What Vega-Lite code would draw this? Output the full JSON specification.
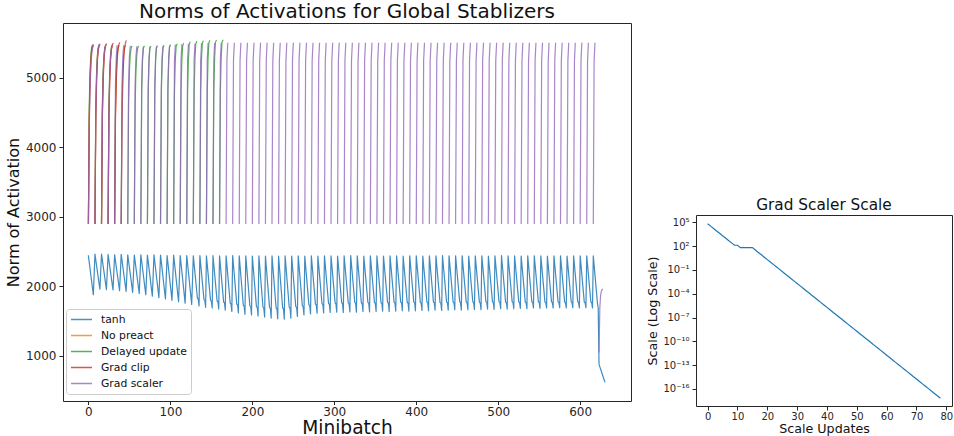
{
"$schema": "https://vega.github.io/schema/vega-lite/v6.json",
"padding": {"left": 4, "top": 1, "right": 0, "bottom": 0},
"background": "white",
"config": {
  "font": "DejaVu Sans",
  "view": {"stroke": "#262626", "strokeWidth": 1},
  "axis": {"grid": false, "domain": false, "tickColor": "#262626", "tickSize": 4, "labelColor": "#262626", "titleColor": "#111", "labelFont": "DejaVu Sans", "titleFont": "DejaVu Sans", "titleFontWeight": "normal", "labelPadding": 3},
  "title": {"font": "DejaVu Sans", "fontWeight": "normal", "color": "#111"}
},
"hconcat": [
{
  "width": 568, "height": 378,
  "title": {"text": "Norms of Activations for Global Stablizers", "fontSize": 20, "offset": 1},
  "encoding": {
    "x": {"field": "x", "type": "quantitative", "scale": {"domain": [-31, 662], "nice": false, "zero": false}, "axis": {"values": [0,100,200,300,400,500,600], "format": "d", "title": "Minibatch", "titleFontSize": 18.6, "labelFontSize": 12, "tickSize": 3.5, "labelPadding": 1.5, "titlePadding": 1}},
    "y": {"field": "y", "type": "quantitative", "scale": {"domain": [353, 5787], "nice": false, "zero": false}, "axis": {"values": [1000,2000,3000,4000,5000], "format": "d", "title": "Norm of Activation", "titleFontSize": 16, "labelFontSize": 12, "titlePadding": 4}},
    "detail": {"field": "c", "type": "nominal"}
  },
  "layer": [
  {
    "data": {"values": [
{"x":0,"y":2440},{"x":6,"y":1880},{"x":8,"y":2465},{"x":14,"y":1960},{"x":16,"y":2465},{"x":22,"y":1955},{"x":24,"y":2460},{"x":30,"y":1950},{"x":32,"y":2455},{"x":38,"y":1940},{"x":40,"y":2460},{"x":46,"y":1930},{"x":48,"y":2455},{"x":54,"y":1915},{"x":56,"y":2450},{"x":62,"y":1900},{"x":64,"y":2455},{"x":70,"y":1880},{"x":72,"y":2450},{"x":78,"y":1860},{"x":80,"y":2455},{"x":86,"y":1840},{"x":88,"y":2450},{"x":94,"y":1820},{"x":96,"y":2445},{"x":102,"y":1800},{"x":104,"y":2450},{"x":110,"y":1780},{"x":112,"y":2445},{"x":118,"y":1760},{"x":120,"y":2445},{"x":126,"y":1740},
{"x":128,"y":2440},{"x":133,"y":1830},{"x":134,"y":1820},{"x":135,"y":1720},
{"x":136,"y":2445},{"x":141,"y":1810},{"x":142,"y":1800},{"x":143,"y":1700},
{"x":144,"y":2440},{"x":149,"y":1800},{"x":150,"y":1790},{"x":151,"y":1690},
{"x":152,"y":2445},{"x":157,"y":1790},{"x":158,"y":1780},{"x":159,"y":1675},
{"x":160,"y":2440},{"x":165,"y":1775},{"x":166,"y":1765},{"x":167,"y":1660},
{"x":168,"y":2440},{"x":173,"y":1760},{"x":174,"y":1750},{"x":175,"y":1640},
{"x":176,"y":2445},{"x":181,"y":1745},{"x":182,"y":1735},{"x":183,"y":1620},
{"x":184,"y":2440},{"x":189,"y":1730},{"x":190,"y":1720},{"x":191,"y":1600},
{"x":192,"y":2440},{"x":197,"y":1720},{"x":198,"y":1710},{"x":199,"y":1590},
{"x":200,"y":2435},{"x":205,"y":1710},{"x":206,"y":1700},{"x":207,"y":1575},
{"x":208,"y":2440},{"x":213,"y":1700},{"x":214,"y":1690},{"x":215,"y":1560},
{"x":216,"y":2435},{"x":221,"y":1695},{"x":222,"y":1685},{"x":223,"y":1545},
{"x":224,"y":2440},{"x":229,"y":1690},{"x":230,"y":1680},{"x":231,"y":1535},
{"x":232,"y":2435},{"x":237,"y":1690},{"x":238,"y":1680},{"x":239,"y":1530},
{"x":240,"y":2440},{"x":245,"y":1700},{"x":246,"y":1690},{"x":247,"y":1545},
{"x":248,"y":2435},{"x":253,"y":1710},{"x":254,"y":1700},{"x":255,"y":1570},
{"x":256,"y":2440},{"x":261,"y":1720},{"x":262,"y":1710},{"x":263,"y":1590},
{"x":264,"y":2435},{"x":269,"y":1735},{"x":270,"y":1725},{"x":271,"y":1605},
{"x":272,"y":2440},{"x":277,"y":1745},{"x":278,"y":1735},{"x":279,"y":1615},
{"x":280,"y":2435},{"x":285,"y":1750},{"x":286,"y":1740},{"x":287,"y":1620},
{"x":288,"y":2440},{"x":293,"y":1755},{"x":294,"y":1745},{"x":295,"y":1625},
{"x":296,"y":2440},{"x":301,"y":1760},{"x":302,"y":1750},{"x":303,"y":1630},
{"x":304,"y":2435},{"x":309,"y":1765},{"x":310,"y":1755},{"x":311,"y":1625},
{"x":312,"y":2440},{"x":317,"y":1765},{"x":318,"y":1755},{"x":319,"y":1635},
{"x":320,"y":2445},{"x":325,"y":1770},{"x":326,"y":1760},{"x":327,"y":1630},
{"x":328,"y":2440},{"x":333,"y":1765},{"x":334,"y":1755},{"x":335,"y":1640},
{"x":336,"y":2435},{"x":341,"y":1770},{"x":342,"y":1760},{"x":343,"y":1635},
{"x":344,"y":2440},{"x":349,"y":1770},{"x":350,"y":1760},{"x":351,"y":1640},
{"x":352,"y":2440},{"x":357,"y":1765},{"x":358,"y":1755},{"x":359,"y":1645},
{"x":360,"y":2435},{"x":365,"y":1770},{"x":366,"y":1760},{"x":367,"y":1640},
{"x":368,"y":2440},{"x":373,"y":1770},{"x":374,"y":1760},{"x":375,"y":1645},
{"x":376,"y":2440},{"x":381,"y":1775},{"x":382,"y":1765},{"x":383,"y":1650},
{"x":384,"y":2435},{"x":389,"y":1770},{"x":390,"y":1760},{"x":391,"y":1645},
{"x":392,"y":2440},{"x":397,"y":1775},{"x":398,"y":1765},{"x":399,"y":1650},
{"x":400,"y":2440},{"x":405,"y":1770},{"x":406,"y":1760},{"x":407,"y":1655},
{"x":408,"y":2435},{"x":413,"y":1775},{"x":414,"y":1765},{"x":415,"y":1650},
{"x":416,"y":2440},{"x":421,"y":1775},{"x":422,"y":1765},{"x":423,"y":1660},
{"x":424,"y":2440},{"x":429,"y":1770},{"x":430,"y":1760},{"x":431,"y":1655},
{"x":432,"y":2445},{"x":437,"y":1775},{"x":438,"y":1765},{"x":439,"y":1660},
{"x":440,"y":2440},{"x":445,"y":1775},{"x":446,"y":1765},{"x":447,"y":1665},
{"x":448,"y":2440},{"x":453,"y":1780},{"x":454,"y":1770},{"x":455,"y":1660},
{"x":456,"y":2440},{"x":461,"y":1775},{"x":462,"y":1765},{"x":463,"y":1665},
{"x":464,"y":2435},{"x":469,"y":1780},{"x":470,"y":1770},{"x":471,"y":1670},
{"x":472,"y":2440},{"x":477,"y":1775},{"x":478,"y":1765},{"x":479,"y":1665},
{"x":480,"y":2440},{"x":485,"y":1780},{"x":486,"y":1770},{"x":487,"y":1675},
{"x":488,"y":2435},{"x":493,"y":1780},{"x":494,"y":1770},{"x":495,"y":1670},
{"x":496,"y":2440},{"x":501,"y":1780},{"x":502,"y":1770},{"x":503,"y":1680},
{"x":504,"y":2445},{"x":509,"y":1775},{"x":510,"y":1765},{"x":511,"y":1675},
{"x":512,"y":2440},{"x":517,"y":1780},{"x":518,"y":1770},{"x":519,"y":1680},
{"x":520,"y":2440},{"x":525,"y":1780},{"x":526,"y":1770},{"x":527,"y":1685},
{"x":528,"y":2435},{"x":533,"y":1775},{"x":534,"y":1765},{"x":535,"y":1680},
{"x":536,"y":2440},{"x":541,"y":1780},{"x":542,"y":1770},{"x":543,"y":1690},
{"x":544,"y":2440},{"x":549,"y":1780},{"x":550,"y":1770},{"x":551,"y":1685},
{"x":552,"y":2440},{"x":557,"y":1775},{"x":558,"y":1765},{"x":559,"y":1690},
{"x":560,"y":2435},{"x":565,"y":1780},{"x":566,"y":1770},{"x":567,"y":1690},
{"x":568,"y":2440},{"x":573,"y":1780},{"x":574,"y":1770},{"x":575,"y":1695},
{"x":576,"y":2440},{"x":581,"y":1775},{"x":582,"y":1765},{"x":583,"y":1690},
{"x":584,"y":2435},{"x":589,"y":1780},{"x":590,"y":1770},{"x":591,"y":1695},
{"x":592,"y":2440},{"x":597,"y":1780},{"x":598,"y":1770},{"x":599,"y":1690},
{"x":600,"y":2440},{"x":605,"y":1775},{"x":606,"y":1765},{"x":607,"y":1695},
{"x":608,"y":2440},{"x":613,"y":1780},{"x":614,"y":1770},{"x":615,"y":1690},
{"x":616,"y":2440},{"x":621,"y":1765},{"x":622,"y":1690},{"x":623,"y":880},{"x":630,"y":630}
    ]},
    "mark": {"type": "line", "strokeWidth": 1.2, "opacity": 0.85, "strokeJoin": "round", "strokeCap": "square"},
    "encoding": {"color": {"datum": "tanh", "type": "nominal",
      "scale": {"domain": ["tanh", "No preact", "Delayed update", "Grad clip", "Grad scaler"], "range": ["#1f77b4", "#ff7f0e", "#2ca02c", "#d62728", "#9467bd"]},
      "legend": {"title": null, "orient": "none", "legendX": 3, "legendY": 286, "fillColor": "rgba(255,255,255,0.8)", "strokeColor": "#cccccc", "cornerRadius": 3, "padding": 4, "symbolType": "stroke", "symbolSize": 440, "symbolStrokeWidth": 1.5, "symbolOpacity": 0.6, "labelFontSize": 10.8, "labelColor": "#111", "labelOffset": 8, "clipHeight": 13, "rowPadding": 3}}}
  },
  {
    "data": {"values": [
{"x":0,"y":2905,"c":0},{"x":1,"y":4450,"c":0},{"x":2,"y":5000,"c":0},{"x":3,"y":5280,"c":0},{"x":4,"y":5410,"c":0},{"x":5,"y":5450,"c":0},
{"x":8,"y":2905,"c":1},{"x":9,"y":4450,"c":1},{"x":10,"y":5000,"c":1},{"x":11,"y":5280,"c":1},{"x":12,"y":5410,"c":1},{"x":13,"y":5450,"c":1},
{"x":16,"y":2905,"c":2},{"x":17,"y":4450,"c":2},{"x":18,"y":5000,"c":2},{"x":19,"y":5280,"c":2},{"x":20,"y":5410,"c":2},{"x":21,"y":5450,"c":2},
{"x":24,"y":2905,"c":3},{"x":25,"y":4450,"c":3},{"x":26,"y":5000,"c":3},{"x":27,"y":5280,"c":3},{"x":28,"y":5410,"c":3},{"x":29,"y":5450,"c":3},
{"x":32,"y":2905,"c":4},{"x":33,"y":4450,"c":4},{"x":34,"y":5000,"c":4},{"x":35,"y":5280,"c":4},{"x":36,"y":5410,"c":4},{"x":37,"y":5450,"c":4}
    ]},
    "mark": {"type": "line", "strokeWidth": 1.2, "opacity": 0.8, "strokeJoin": "round", "strokeCap": "square"},
    "encoding": {"color": {"datum": "No preact", "type": "nominal"}}
  },
  {
    "data": {"values": [
{"x":0,"y":2905,"c":0},{"x":1,"y":4600,"c":0},{"x":2,"y":5100,"c":0},{"x":3,"y":5330,"c":0},{"x":4,"y":5440,"c":0},{"x":5,"y":5470,"c":0},
{"x":8,"y":2905,"c":1},{"x":9,"y":4600,"c":1},{"x":10,"y":5100,"c":1},{"x":11,"y":5330,"c":1},{"x":12,"y":5440,"c":1},{"x":13,"y":5470,"c":1},
{"x":16,"y":2905,"c":2},{"x":17,"y":4600,"c":2},{"x":18,"y":5100,"c":2},{"x":19,"y":5330,"c":2},{"x":20,"y":5440,"c":2},{"x":21,"y":5465,"c":2},
{"x":24,"y":2905,"c":3},{"x":25,"y":4600,"c":3},{"x":26,"y":5100,"c":3},{"x":27,"y":5330,"c":3},{"x":28,"y":5440,"c":3},{"x":29,"y":5460,"c":3},
{"x":32,"y":2905,"c":4},{"x":33,"y":4600,"c":4},{"x":34,"y":5100,"c":4},{"x":35,"y":5330,"c":4},{"x":36,"y":5430,"c":4},{"x":37,"y":5460,"c":4},
{"x":40,"y":2905,"c":5},{"x":41,"y":4600,"c":5},{"x":42,"y":5100,"c":5},{"x":43,"y":5330,"c":5},{"x":44,"y":5430,"c":5},{"x":45,"y":5455,"c":5},
{"x":48,"y":2905,"c":6},{"x":49,"y":4600,"c":6},{"x":50,"y":5100,"c":6},{"x":51,"y":5320,"c":6},{"x":52,"y":5420,"c":6},{"x":53,"y":5450,"c":6},
{"x":56,"y":2905,"c":7},{"x":57,"y":4600,"c":7},{"x":58,"y":5100,"c":7},{"x":59,"y":5320,"c":7},{"x":60,"y":5420,"c":7},{"x":61,"y":5450,"c":7},
{"x":64,"y":2905,"c":8},{"x":65,"y":4800,"c":8},{"x":66,"y":5250,"c":8},{"x":67,"y":5420,"c":8},{"x":68,"y":5450,"c":8},
{"x":72,"y":2905,"c":9},{"x":73,"y":4800,"c":9},{"x":74,"y":5250,"c":9},{"x":75,"y":5420,"c":9},{"x":76,"y":5450,"c":9},
{"x":80,"y":2905,"c":10},{"x":81,"y":4800,"c":10},{"x":82,"y":5250,"c":10},{"x":83,"y":5425,"c":10},{"x":84,"y":5455,"c":10},
{"x":88,"y":2905,"c":11},{"x":89,"y":4800,"c":11},{"x":90,"y":5250,"c":11},{"x":91,"y":5430,"c":11},{"x":92,"y":5460,"c":11},
{"x":96,"y":2905,"c":12},{"x":97,"y":4800,"c":12},{"x":98,"y":5250,"c":12},{"x":99,"y":5440,"c":12},{"x":100,"y":5470,"c":12},
{"x":104,"y":2905,"c":13},{"x":105,"y":4800,"c":13},{"x":106,"y":5250,"c":13},{"x":107,"y":5450,"c":13},{"x":108,"y":5480,"c":13},
{"x":112,"y":2905,"c":14},{"x":113,"y":4800,"c":14},{"x":114,"y":5250,"c":14},{"x":115,"y":5460,"c":14},{"x":116,"y":5490,"c":14},
{"x":120,"y":2905,"c":15},{"x":121,"y":4800,"c":15},{"x":122,"y":5260,"c":15},{"x":123,"y":5480,"c":15},{"x":124,"y":5510,"c":15},
{"x":128,"y":2905,"c":16},{"x":129,"y":4800,"c":16},{"x":130,"y":5270,"c":16},{"x":131,"y":5490,"c":16},{"x":132,"y":5520,"c":16},
{"x":136,"y":2905,"c":17},{"x":137,"y":4800,"c":17},{"x":138,"y":5280,"c":17},{"x":139,"y":5500,"c":17},{"x":140,"y":5525,"c":17},
{"x":144,"y":2905,"c":18},{"x":145,"y":4800,"c":18},{"x":146,"y":5280,"c":18},{"x":147,"y":5505,"c":18},{"x":148,"y":5530,"c":18},
{"x":152,"y":2905,"c":19},{"x":153,"y":4800,"c":19},{"x":154,"y":5290,"c":19},{"x":155,"y":5510,"c":19},{"x":156,"y":5535,"c":19},
{"x":160,"y":2905,"c":20},{"x":161,"y":4800,"c":20},{"x":162,"y":5290,"c":20},{"x":163,"y":5515,"c":20},{"x":164,"y":5540,"c":20}
    ]},
    "mark": {"type": "line", "strokeWidth": 1.2, "opacity": 0.8, "strokeJoin": "round", "strokeCap": "square"},
    "encoding": {"color": {"datum": "Delayed update", "type": "nominal"}}
  },
  {
    "data": {"values": [
{"x":0,"y":2905,"c":0},{"x":1,"y":4400,"c":0},{"x":2,"y":4950,"c":0},{"x":3,"y":5250,"c":0},{"x":4,"y":5400,"c":0},{"x":5,"y":5450,"c":0},{"x":6,"y":5470,"c":0},
{"x":8,"y":2905,"c":1},{"x":9,"y":4400,"c":1},{"x":10,"y":4950,"c":1},{"x":11,"y":5250,"c":1},{"x":12,"y":5400,"c":1},{"x":13,"y":5455,"c":1},{"x":14,"y":5480,"c":1},
{"x":16,"y":2905,"c":2},{"x":17,"y":4400,"c":2},{"x":18,"y":4950,"c":2},{"x":19,"y":5250,"c":2},{"x":20,"y":5400,"c":2},{"x":21,"y":5460,"c":2},{"x":22,"y":5485,"c":2},
{"x":24,"y":2905,"c":3},{"x":25,"y":4400,"c":3},{"x":26,"y":4950,"c":3},{"x":27,"y":5250,"c":3},{"x":28,"y":5400,"c":3},{"x":29,"y":5465,"c":3},{"x":30,"y":5490,"c":3},
{"x":32,"y":2905,"c":4},{"x":33,"y":4400,"c":4},{"x":34,"y":4950,"c":4},{"x":35,"y":5250,"c":4},{"x":36,"y":5400,"c":4},{"x":37,"y":5470,"c":4},{"x":38,"y":5500,"c":4},
{"x":40,"y":2905,"c":5},{"x":41,"y":4400,"c":5},{"x":42,"y":4950,"c":5},{"x":43,"y":5250,"c":5},{"x":44,"y":5410,"c":5},{"x":45,"y":5490,"c":5},{"x":46,"y":5530,"c":5}
    ]},
    "mark": {"type": "line", "strokeWidth": 1.2, "opacity": 0.8, "strokeJoin": "round", "strokeCap": "square"},
    "encoding": {"color": {"datum": "Grad clip", "type": "nominal"}}
  },
  {
    "data": {"values": [
{"x":0,"y":2905,"c":0},{"x":1,"y":4250,"c":0},{"x":2,"y":4850,"c":0},{"x":3,"y":5150,"c":0},{"x":4,"y":5330,"c":0},{"x":5,"y":5420,"c":0},{"x":6,"y":5460,"c":0},
{"x":8,"y":2905,"c":1},{"x":9,"y":4500,"c":1},{"x":10,"y":5050,"c":1},{"x":11,"y":5300,"c":1},{"x":12,"y":5420,"c":1},{"x":13,"y":5470,"c":1},
{"x":16,"y":2905,"c":2},{"x":17,"y":4500,"c":2},{"x":18,"y":5050,"c":2},{"x":19,"y":5300,"c":2},{"x":20,"y":5420,"c":2},{"x":21,"y":5470,"c":2},
{"x":24,"y":2905,"c":3},{"x":25,"y":4500,"c":3},{"x":26,"y":5050,"c":3},{"x":27,"y":5300,"c":3},{"x":28,"y":5420,"c":3},{"x":29,"y":5470,"c":3},
{"x":32,"y":2905,"c":4},{"x":33,"y":4900,"c":4},{"x":34,"y":5300,"c":4},{"x":35,"y":5460,"c":4},
{"x":40,"y":2905,"c":5},{"x":41,"y":4900,"c":5},{"x":42,"y":5300,"c":5},{"x":43,"y":5460,"c":5},
{"x":48,"y":2905,"c":6},{"x":49,"y":4900,"c":6},{"x":50,"y":5300,"c":6},{"x":51,"y":5450,"c":6},
{"x":56,"y":2905,"c":7},{"x":57,"y":4900,"c":7},{"x":58,"y":5300,"c":7},{"x":59,"y":5445,"c":7},
{"x":64,"y":2905,"c":8},{"x":65,"y":4900,"c":8},{"x":66,"y":5300,"c":8},{"x":67,"y":5440,"c":8},
{"x":72,"y":2905,"c":9},{"x":73,"y":4900,"c":9},{"x":74,"y":5300,"c":9},{"x":75,"y":5440,"c":9},
{"x":80,"y":2905,"c":10},{"x":81,"y":4900,"c":10},{"x":82,"y":5300,"c":10},{"x":83,"y":5445,"c":10},
{"x":88,"y":2905,"c":11},{"x":89,"y":4900,"c":11},{"x":90,"y":5300,"c":11},{"x":91,"y":5450,"c":11},
{"x":96,"y":2905,"c":12},{"x":97,"y":4900,"c":12},{"x":98,"y":5300,"c":12},{"x":99,"y":5455,"c":12},
{"x":104,"y":2905,"c":13},{"x":105,"y":5250,"c":13},{"x":106,"y":5470,"c":13},
{"x":112,"y":2905,"c":14},{"x":113,"y":5250,"c":14},{"x":114,"y":5475,"c":14},
{"x":120,"y":2905,"c":15},{"x":121,"y":5250,"c":15},{"x":122,"y":5480,"c":15},
{"x":128,"y":2905,"c":16},{"x":129,"y":5250,"c":16},{"x":130,"y":5485,"c":16},
{"x":136,"y":2905,"c":17},{"x":137,"y":5250,"c":17},{"x":138,"y":5490,"c":17},
{"x":144,"y":2905,"c":18},{"x":145,"y":5250,"c":18},{"x":146,"y":5490,"c":18},
{"x":152,"y":2905,"c":19},{"x":153,"y":5250,"c":19},{"x":154,"y":5490,"c":19},
{"x":160,"y":2905,"c":20},{"x":161,"y":5250,"c":20},{"x":162,"y":5495,"c":20},
{"x":168,"y":2905,"c":21},{"x":169,"y":5250,"c":21},{"x":170,"y":5495,"c":21},
{"x":176,"y":2905,"c":22},{"x":177,"y":5250,"c":22},{"x":178,"y":5495,"c":22},
{"x":184,"y":2905,"c":23},{"x":185,"y":5250,"c":23},{"x":186,"y":5495,"c":23},
{"x":192,"y":2905,"c":24},{"x":193,"y":5250,"c":24},{"x":194,"y":5495,"c":24},
{"x":200,"y":2905,"c":25},{"x":201,"y":5250,"c":25},{"x":202,"y":5495,"c":25},
{"x":208,"y":2905,"c":26},{"x":209,"y":5250,"c":26},{"x":210,"y":5495,"c":26},
{"x":216,"y":2905,"c":27},{"x":217,"y":5250,"c":27},{"x":218,"y":5495,"c":27},
{"x":224,"y":2905,"c":28},{"x":225,"y":5250,"c":28},{"x":226,"y":5495,"c":28},
{"x":232,"y":2905,"c":29},{"x":233,"y":5250,"c":29},{"x":234,"y":5495,"c":29},
{"x":240,"y":2905,"c":30},{"x":241,"y":5250,"c":30},{"x":242,"y":5495,"c":30},
{"x":248,"y":2905,"c":31},{"x":249,"y":5250,"c":31},{"x":250,"y":5495,"c":31},
{"x":256,"y":2905,"c":32},{"x":257,"y":5250,"c":32},{"x":258,"y":5495,"c":32},
{"x":264,"y":2905,"c":33},{"x":265,"y":5250,"c":33},{"x":266,"y":5495,"c":33},
{"x":272,"y":2905,"c":34},{"x":273,"y":5250,"c":34},{"x":274,"y":5495,"c":34},
{"x":280,"y":2905,"c":35},{"x":281,"y":5250,"c":35},{"x":282,"y":5495,"c":35},
{"x":288,"y":2905,"c":36},{"x":289,"y":5250,"c":36},{"x":290,"y":5495,"c":36},
{"x":296,"y":2905,"c":37},{"x":297,"y":5250,"c":37},{"x":298,"y":5495,"c":37},
{"x":304,"y":2905,"c":38},{"x":305,"y":5250,"c":38},{"x":306,"y":5495,"c":38},
{"x":312,"y":2905,"c":39},{"x":313,"y":5250,"c":39},{"x":314,"y":5495,"c":39},
{"x":320,"y":2905,"c":40},{"x":321,"y":5250,"c":40},{"x":322,"y":5495,"c":40},
{"x":328,"y":2905,"c":41},{"x":329,"y":5250,"c":41},{"x":330,"y":5495,"c":41},
{"x":336,"y":2905,"c":42},{"x":337,"y":5250,"c":42},{"x":338,"y":5495,"c":42},
{"x":344,"y":2905,"c":43},{"x":345,"y":5250,"c":43},{"x":346,"y":5495,"c":43},
{"x":352,"y":2905,"c":44},{"x":353,"y":5250,"c":44},{"x":354,"y":5495,"c":44},
{"x":360,"y":2905,"c":45},{"x":361,"y":5250,"c":45},{"x":362,"y":5495,"c":45},
{"x":368,"y":2905,"c":46},{"x":369,"y":5250,"c":46},{"x":370,"y":5495,"c":46},
{"x":376,"y":2905,"c":47},{"x":377,"y":5250,"c":47},{"x":378,"y":5495,"c":47},
{"x":384,"y":2905,"c":48},{"x":385,"y":5250,"c":48},{"x":386,"y":5495,"c":48},
{"x":392,"y":2905,"c":49},{"x":393,"y":5250,"c":49},{"x":394,"y":5495,"c":49},
{"x":400,"y":2905,"c":50},{"x":401,"y":5250,"c":50},{"x":402,"y":5495,"c":50},
{"x":408,"y":2905,"c":51},{"x":409,"y":5250,"c":51},{"x":410,"y":5495,"c":51},
{"x":416,"y":2905,"c":52},{"x":417,"y":5250,"c":52},{"x":418,"y":5495,"c":52},
{"x":424,"y":2905,"c":53},{"x":425,"y":5250,"c":53},{"x":426,"y":5495,"c":53},
{"x":432,"y":2905,"c":54},{"x":433,"y":5250,"c":54},{"x":434,"y":5495,"c":54},
{"x":440,"y":2905,"c":55},{"x":441,"y":5250,"c":55},{"x":442,"y":5495,"c":55},
{"x":448,"y":2905,"c":56},{"x":449,"y":5250,"c":56},{"x":450,"y":5495,"c":56},
{"x":456,"y":2905,"c":57},{"x":457,"y":5250,"c":57},{"x":458,"y":5495,"c":57},
{"x":464,"y":2905,"c":58},{"x":465,"y":5250,"c":58},{"x":466,"y":5495,"c":58},
{"x":472,"y":2905,"c":59},{"x":473,"y":5250,"c":59},{"x":474,"y":5495,"c":59},
{"x":480,"y":2905,"c":60},{"x":481,"y":5250,"c":60},{"x":482,"y":5495,"c":60},
{"x":488,"y":2905,"c":61},{"x":489,"y":5250,"c":61},{"x":490,"y":5495,"c":61},
{"x":496,"y":2905,"c":62},{"x":497,"y":5250,"c":62},{"x":498,"y":5495,"c":62},
{"x":504,"y":2905,"c":63},{"x":505,"y":5250,"c":63},{"x":506,"y":5495,"c":63},
{"x":512,"y":2905,"c":64},{"x":513,"y":5250,"c":64},{"x":514,"y":5495,"c":64},
{"x":520,"y":2905,"c":65},{"x":521,"y":5250,"c":65},{"x":522,"y":5495,"c":65},
{"x":528,"y":2905,"c":66},{"x":529,"y":5250,"c":66},{"x":530,"y":5495,"c":66},
{"x":536,"y":2905,"c":67},{"x":537,"y":5250,"c":67},{"x":538,"y":5495,"c":67},
{"x":544,"y":2905,"c":68},{"x":545,"y":5250,"c":68},{"x":546,"y":5495,"c":68},
{"x":552,"y":2905,"c":69},{"x":553,"y":5250,"c":69},{"x":554,"y":5495,"c":69},
{"x":560,"y":2905,"c":70},{"x":561,"y":5250,"c":70},{"x":562,"y":5495,"c":70},
{"x":568,"y":2905,"c":71},{"x":569,"y":5250,"c":71},{"x":570,"y":5495,"c":71},
{"x":576,"y":2905,"c":72},{"x":577,"y":5250,"c":72},{"x":578,"y":5495,"c":72},
{"x":584,"y":2905,"c":73},{"x":585,"y":5250,"c":73},{"x":586,"y":5495,"c":73},
{"x":592,"y":2905,"c":74},{"x":593,"y":5250,"c":74},{"x":594,"y":5495,"c":74},
{"x":600,"y":2905,"c":75},{"x":601,"y":5250,"c":75},{"x":602,"y":5495,"c":75},
{"x":608,"y":2905,"c":76},{"x":609,"y":5250,"c":76},{"x":610,"y":5495,"c":76},
{"x":616,"y":2905,"c":77},{"x":617,"y":5250,"c":77},{"x":618,"y":5495,"c":77},
{"x":623,"y":1060,"c":78},{"x":624,"y":1700,"c":78},{"x":625,"y":1880,"c":78},{"x":626,"y":1940,"c":78},{"x":627,"y":1960,"c":78}
    ]},
    "mark": {"type": "line", "strokeWidth": 1.2, "opacity": 0.8, "strokeJoin": "round", "strokeCap": "square"},
    "encoding": {"color": {"datum": "Grad scaler", "type": "nominal"}}
  }
  ]
},
{
  "spacing": 0,
  "vconcat": [
  {
    "width": 200, "height": 174,
    "view": {"stroke": null},
    "data": {"values": [{}]},
    "mark": {"type": "text"},
    "encoding": {}
  },
  {
    "width": 256, "height": 191,
    "title": {"text": "Grad Scaler Scale", "fontSize": 15.3, "offset": 2},
    "data": {"values": [
{"x":0,"v":65536},{"x":1,"v":32768},{"x":2,"v":16384},{"x":3,"v":8192},{"x":4,"v":4096},{"x":5,"v":2048},{"x":6,"v":1024},{"x":7,"v":512},{"x":8,"v":256},{"x":9,"v":128},{"x":10,"v":128},
{"x":11,"v":64},{"x":12,"v":64},{"x":13,"v":64},{"x":14,"v":64},{"x":15,"v":64},{"x":16,"v":32},{"x":17,"v":16},{"x":18,"v":8},{"x":19,"v":4},{"x":20,"v":2},
{"x":21,"v":1},{"x":22,"v":0.5},{"x":23,"v":0.25},{"x":24,"v":0.125},{"x":25,"v":0.0625},{"x":26,"v":0.03125},{"x":27,"v":0.015625},{"x":28,"v":0.0078125},{"x":29,"v":0.00390625},{"x":30,"v":0.001953125},
{"x":31,"v":9.766e-4},{"x":32,"v":4.883e-4},{"x":33,"v":2.441e-4},{"x":34,"v":1.221e-4},{"x":35,"v":6.104e-5},{"x":36,"v":3.052e-5},{"x":37,"v":1.526e-5},{"x":38,"v":7.629e-6},{"x":39,"v":3.815e-6},{"x":40,"v":1.907e-6},
{"x":41,"v":9.537e-7},{"x":42,"v":4.768e-7},{"x":43,"v":2.384e-7},{"x":44,"v":1.192e-7},{"x":45,"v":5.96e-8},{"x":46,"v":2.98e-8},{"x":47,"v":1.49e-8},{"x":48,"v":7.451e-9},{"x":49,"v":3.725e-9},{"x":50,"v":1.863e-9},
{"x":51,"v":9.313e-10},{"x":52,"v":4.657e-10},{"x":53,"v":2.328e-10},{"x":54,"v":1.164e-10},{"x":55,"v":5.821e-11},{"x":56,"v":2.91e-11},{"x":57,"v":1.455e-11},{"x":58,"v":7.276e-12},{"x":59,"v":3.638e-12},{"x":60,"v":1.819e-12},
{"x":61,"v":9.095e-13},{"x":62,"v":4.547e-13},{"x":63,"v":2.274e-13},{"x":64,"v":1.137e-13},{"x":65,"v":5.684e-14},{"x":66,"v":2.842e-14},{"x":67,"v":1.421e-14},{"x":68,"v":7.105e-15},{"x":69,"v":3.553e-15},{"x":70,"v":1.776e-15},
{"x":71,"v":8.882e-16},{"x":72,"v":4.441e-16},{"x":73,"v":2.22e-16},{"x":74,"v":1.11e-16},{"x":75,"v":5.551e-17},{"x":76,"v":2.776e-17},{"x":77,"v":1.388e-17},{"x":78,"v":6.939e-18}
    ]},
    "mark": {"type": "line", "color": "#1f77b4", "strokeWidth": 1.2},
    "encoding": {
      "x": {"field": "x", "type": "quantitative", "scale": {"domain": [-3.9, 81.9], "nice": false, "zero": false}, "axis": {"values": [0,10,20,30,40,50,60,70,80], "title": "Scale Updates", "titleFontSize": 12.7, "labelFontSize": 10, "labelPadding": 1, "titlePadding": 1}},
      "y": {"field": "v", "type": "quantitative", "scale": {"type": "log", "domain": [7.2e-19, 8.3e5], "nice": false}, "axis": {"values": [1e5, 100, 0.1, 1e-4, 1e-7, 1e-10, 1e-13, 1e-16], "labelExpr": "datum.value >= 1e4 ? '10⁵' : datum.value >= 10 ? '10²' : datum.value >= 0.01 ? '10⁻¹' : datum.value >= 1e-5 ? '10⁻⁴' : datum.value >= 1e-8 ? '10⁻⁷' : datum.value >= 1e-11 ? '10⁻¹⁰' : datum.value >= 1e-14 ? '10⁻¹³' : '10⁻¹⁶'", "title": "Scale (Log Scale)", "titleFontSize": 12.7, "labelFontSize": 10, "titlePadding": 3}}
    }
  }
  ]
}
],
"spacing": 14
}
